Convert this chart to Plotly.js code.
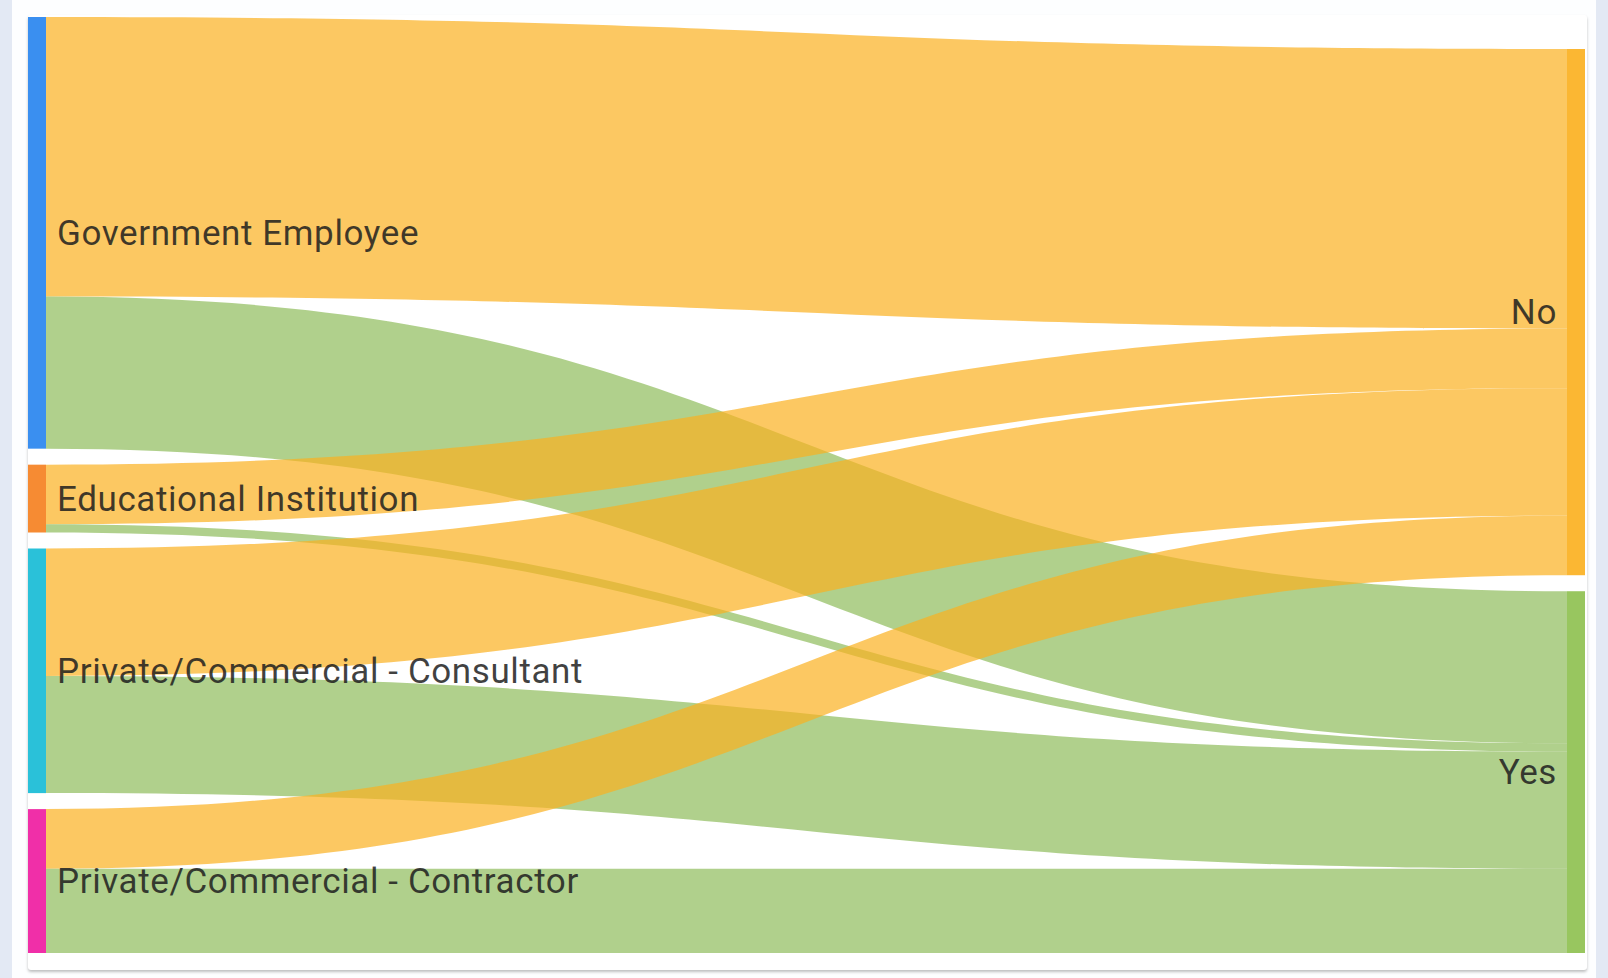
<!DOCTYPE html>
<html>
<head>
<meta charset="utf-8">
<script src="https://cdn.plot.ly/plotly-3.0.1.min.js"></script>
<style>
  html, body { margin: 0; padding: 0; background: #e3e9f4; }
  #outer { position: absolute; left: 12px; top: 0; width: 1584px; height: 978px; background: #fdfeff; }
  #card { position: absolute; left: 28px; top: 15px; width: 1559px; height: 955px; background: #fff;
          box-shadow: 0 2px 3px rgba(0,0,0,0.25); border-radius: 3px; }
  #plot { position: absolute; left: 0; top: 0; width: 1608px; height: 978px; }
  #plot .node-label { letter-spacing: 0.6px; }
</style>
</head>
<body>
<div id="outer"></div>
<div id="card"></div>
<div id="plot"></div>
<script>
document.addEventListener("DOMContentLoaded", function(event) {

  const nodeLabels = [
    'Government Employee',
    'Educational Institution',
    'Private/Commercial - Consultant',
    'Private/Commercial - Contractor',
    'No',
    'Yes'
  ];

  const nodeColors = ['#3a8ff0', '#f68b33', '#2ac1d9', '#f02fa8', '#fbb733', '#98c65f'];

  // links: source -> target, value
  const linkSource = [0, 0, 1, 1, 2, 2, 3, 3];
  const linkTarget = [4, 5, 4, 5, 4, 5, 4, 5];
  const linkValue  = [136, 74, 29, 4, 62, 57, 29, 41];

  const noColor = 'rgba(251,176,32,0.7)';
  const yesColor = 'rgba(123,177,63,0.6)';

  const trace = {
    type: 'sankey',
    orientation: 'h',
    arrangement: 'fixed',
    hoverinfo: 'none',
    node: {
      label: nodeLabels,
      color: nodeColors,
      thickness: 18,
      pad: 16,
      line: { width: 0 }
    },
    link: {
      source: linkSource,
      target: linkTarget,
      value: linkValue,
      color: linkTarget.map(function(t) { return t === 4 ? noColor : yesColor; }),
      hoverinfo: 'none'
    },
    textfont: { family: 'Roboto, sans-serif', size: 35, color: 'rgba(30,30,30,0.85)', shadow: 'none' }
  };

  const layout = {
    width: 1608,
    height: 978,
    margin: { l: 28, r: 23, t: 17, b: 25 },
    paper_bgcolor: 'rgba(0,0,0,0)',
    plot_bgcolor: 'rgba(0,0,0,0)',
    font: { family: 'Roboto, sans-serif' }
  };

  Plotly.newPlot('plot', [trace], layout, { displayModeBar: false, staticPlot: true }).then(function() {
    // nudge labels away from the node bars a bit
    document.querySelectorAll('#plot .node-label').forEach(function(el) {
      const anchor = el.getAttribute('text-anchor') || el.style.textAnchor;
      el.setAttribute('dx', anchor === 'end' ? -7 : 8);
    });
  });
});
</script>
</body>
</html>
